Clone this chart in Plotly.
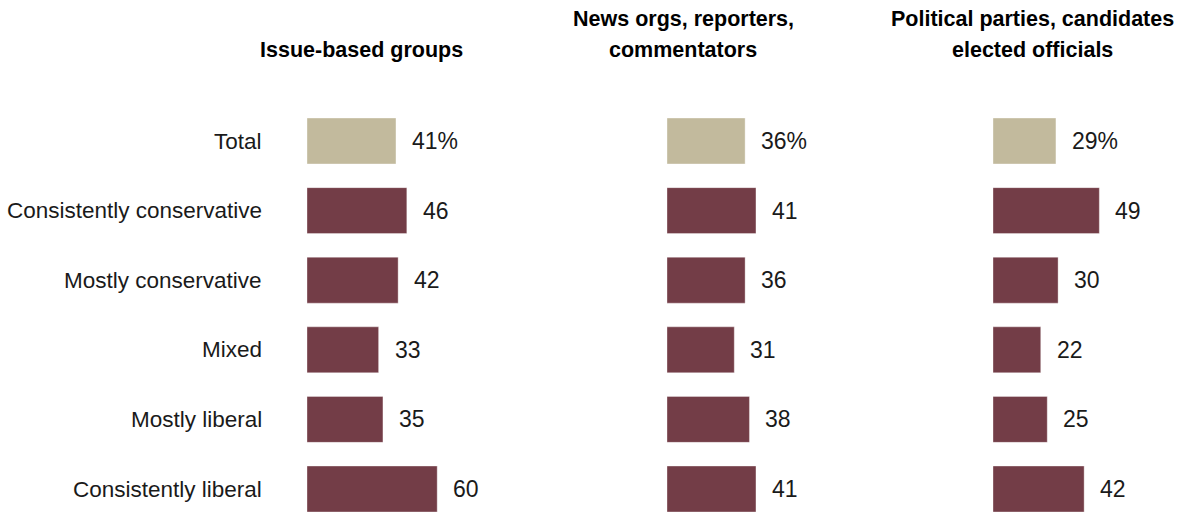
import plotly.graph_objects as go

groups = ["Total", "Consistently conservative", "Mostly conservative", "Mixed",
          "Mostly liberal", "Consistently liberal"]
panel_titles = [["Issue-based groups"],
                ["News orgs, reporters,", "commentators"],
                ["Political parties, candidates", "elected officials"]]
issue_groups = [41, 46, 42, 33, 35, 60]
news_orgs = [36, 41, 36, 31, 38, 41]
political = [29, 49, 30, 22, 25, 42]

series = [issue_groups, news_orgs, political]

W, H = 1183, 513
TAN = "#C2BA9D"
MAROON = "#733D47"
FONT = "Liberation Sans, Arial, sans-serif"

# left pixel edge of each panel's plotting area
panel_left = [307, 667, 993]
XMAX = 80
PX_PER_UNIT = 2.17
panel_width = XMAX * PX_PER_UNIT
title_center = [361, 683, 1032]
title_rows = [[50], [19, 50], [19, 50]]

# vertical category placement (row centres at 141 px, step 69.6 px)
row0, step = 141, 69.6
y_top = -row0 / step
y_bot = (len(groups) - 1) + (H - (row0 + step * (len(groups) - 1))) / step

fig = go.Figure()
annotations = []
for i, vals in enumerate(series):
    xa = "x" if i == 0 else f"x{i+1}"
    ya = "y" if i == 0 else f"y{i+1}"
    colors = [TAN] + [MAROON] * (len(vals) - 1)
    fig.add_trace(go.Bar(
        x=vals, y=groups, orientation="h",
        marker=dict(color=colors, line=dict(color="rgba(255,255,255,0.35)", width=1)),
        width=0.66, xaxis=xa, yaxis=ya, hoverinfo="skip", showlegend=False,
    ))
    for j, (g, v) in enumerate(zip(groups, vals)):
        annotations.append(dict(
            x=v, y=g, xref=xa, yref=ya, text=f"{v}%" if j == 0 else f"{v}",
            showarrow=False, xanchor="left", yanchor="middle", xshift=14,
            font=dict(family=FONT, size=23, color="#1a1a1a"),
        ))
    for line, ypx in zip(panel_titles[i], title_rows[i]):
        annotations.append(dict(
            x=title_center[i] / W, y=1 - ypx / H, xref="paper", yref="paper",
            text=f"<b>{line}</b>", showarrow=False,
            xanchor="center", yanchor="middle",
            font=dict(family=FONT, size=21.5, color="#000000"),
        ))
    layout_x = dict(domain=[panel_left[i] / W, (panel_left[i] + panel_width) / W],
                    range=[0, XMAX], visible=False, fixedrange=True)
    layout_y = dict(domain=[0, 1], range=[y_bot, y_top], visible=False,
                    type="category", categoryorder="array", categoryarray=groups,
                    fixedrange=True)
    if i > 0:
        layout_y["anchor"] = xa
        layout_x["anchor"] = ya
    fig.update_layout(**{("xaxis" if i == 0 else f"xaxis{i+1}"): layout_x,
                         ("yaxis" if i == 0 else f"yaxis{i+1}"): layout_y})

# row labels on the left
for g in groups:
    annotations.append(dict(
        x=264 / W, y=g, xref="paper", yref="y", text=g, showarrow=False,
        xanchor="right", yanchor="middle",
        font=dict(family=FONT, size=22.5, color="#1a1a1a"),
    ))

fig.update_layout(
    width=W, height=H, margin=dict(l=0, r=0, t=0, b=0),
    paper_bgcolor="white", plot_bgcolor="white",
    annotations=annotations, bargap=0.34,
)

fig.write_html("out.html")
